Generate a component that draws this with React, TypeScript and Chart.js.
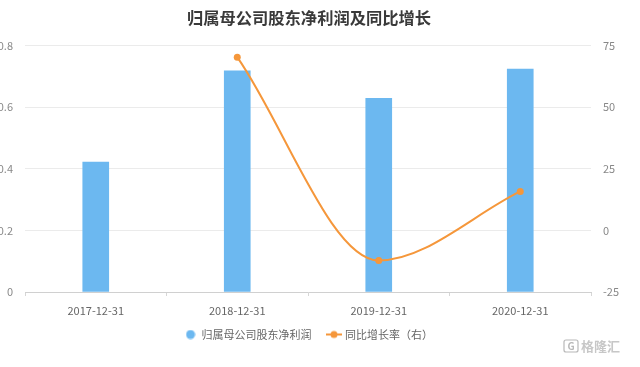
import React, { useEffect, useRef } from "react";
import { Chart, registerables } from "chart.js";

Chart.register(...registerables);

const title = "归属母公司股东净利润及同比增长";
const categories = ["2017-12-31", "2018-12-31", "2019-12-31", "2020-12-31"];
const profitLabel = "归属母公司股东净利润";
const profitValues = [0.422, 0.718, 0.629, 0.724];
const growthLabel = "同比增长率（右）";
const growthValues: (number | null)[] = [null, 70.3, -12.2, 15.8];

const FONT = "'Noto Sans CJK SC', 'Noto Sans', sans-serif";
const BAR_COLOR = "#6cb8f0";
const LINE_COLOR = "#f5973b";
const LEGEND_SHIFT = -6;

function makeLineMarker(): HTMLCanvasElement {
  const c = document.createElement("canvas");
  c.width = 18;
  c.height = 10;
  const ctx = c.getContext("2d")!;
  ctx.strokeStyle = LINE_COLOR;
  ctx.lineWidth = 2;
  ctx.beginPath();
  ctx.moveTo(1, 5);
  ctx.lineTo(17, 5);
  ctx.stroke();
  ctx.fillStyle = LINE_COLOR;
  ctx.beginPath();
  ctx.arc(9, 5, 3.5, 0, Math.PI * 2);
  ctx.fill();
  return c;
}

function makeDotMarker(): HTMLCanvasElement {
  const c = document.createElement("canvas");
  c.width = 10;
  c.height = 10;
  const ctx = c.getContext("2d")!;
  ctx.fillStyle = BAR_COLOR;
  ctx.beginPath();
  ctx.arc(5, 5, 4.5, 0, Math.PI * 2);
  ctx.fill();
  return c;
}

const legendShift = {
  id: "legendShift",
  afterLayout(chart: any) {
    const lg = chart.legend;
    if (lg) {
      lg.top += LEGEND_SHIFT;
      lg.bottom += LEGEND_SHIFT;
    }
  },
};

const watermark = {
  id: "watermark",
  afterDraw(chart: any) {
    const ctx = chart.ctx as CanvasRenderingContext2D;
    ctx.save();
    const x0 = 22 + 564;
    const y0 = 340;
    ctx.strokeStyle = "rgba(160,160,160,0.75)";
    ctx.lineWidth = 1.2;
    ctx.beginPath();
    (ctx as any).roundRect ? (ctx as any).roundRect(x0, y0, 14, 12, 2) : ctx.rect(x0, y0, 14, 12);
    ctx.stroke();
    ctx.fillStyle = "rgba(160,160,160,0.75)";
    ctx.font = `bold 10px ${FONT}`;
    ctx.textAlign = "center";
    ctx.textBaseline = "middle";
    ctx.fillText("G", x0 + 7, y0 + 6.5);
    ctx.font = `bold 13px ${FONT}`;
    ctx.textAlign = "left";
    ctx.fillStyle = "rgba(175,175,175,0.7)";
    ctx.fillText("格隆汇", x0 + 17, y0 + 6.5);
    ctx.restore();
  },
};

export default function App() {
  const ref = useRef<HTMLCanvasElement | null>(null);

  useEffect(() => {
    if (!ref.current) return;
    Chart.defaults.font.family = FONT;
    const lineMarker = makeLineMarker();
    const dotMarker = makeDotMarker();
    const markers = [dotMarker, lineMarker];
    const chart = new Chart(ref.current, {
      type: "bar",
      data: {
        labels: categories,
        datasets: [
          {
            type: "bar",
            label: profitLabel,
            data: profitValues,
            backgroundColor: BAR_COLOR,
            barThickness: 26,
            yAxisID: "y",
            order: 2,
          },
          {
            type: "line",
            label: growthLabel,
            data: growthValues,
            borderColor: LINE_COLOR,
            backgroundColor: LINE_COLOR,
            borderWidth: 2,
            pointRadius: 3.5,
            pointBackgroundColor: LINE_COLOR,
            pointBorderWidth: 0,
            cubicInterpolationMode: "monotone",
            yAxisID: "y1",
            order: 1,
          } as any,
        ],
      },
      options: {
        responsive: false,
        animation: false,
        layout: { padding: { top: 0, bottom: 11, left: 0, right: 0 } },
        plugins: {
          title: {
            display: true,
            text: title,
            color: "#3a3a3a",
            font: { size: 16.3, weight: "bold", family: FONT },
            padding: { top: 8.2, bottom: 17.8 },
          },
          legend: {
            position: "bottom",
            labels: {
              usePointStyle: true,
              color: "#666",
              font: { size: 11, family: FONT },
              padding: 17,
              sort: (a: any, b: any) => a.datasetIndex - b.datasetIndex,
              generateLabels: (ch: any) => {
                const items = Chart.defaults.plugins.legend.labels.generateLabels(ch);
                items.forEach((it: any) => {
                  it.pointStyle = markers[it.datasetIndex];
                });
                return items;
              },
            },
          },
          tooltip: { enabled: false },
        },
        scales: {
          x: {
            offset: true,
            grid: {
              display: true,
              drawOnChartArea: false,
              drawTicks: true,
              tickLength: 4,
              color: "#d6d6d6",
              offset: true,
            },
            border: { display: true, color: "#d0d0d0" },
            ticks: { color: "#666", font: { size: 11, family: FONT }, padding: 8 },
            afterFit: (s: any) => {
              s.height = 26;
            },
          },
          y: {
            position: "left",
            min: 0,
            max: 0.8,
            ticks: {
              stepSize: 0.2,
              color: "#888",
              font: { size: 11, family: FONT },
              padding: 12,
            },
            grid: { color: "#ebebeb", drawTicks: false },
            border: { display: false },
            afterFit: (s: any) => {
              s.width = 47;
            },
          },
          y1: {
            position: "right",
            min: -25,
            max: 75,
            ticks: {
              stepSize: 25,
              color: "#888",
              font: { size: 11, family: FONT },
              padding: 12,
            },
            grid: { drawOnChartArea: false, drawTicks: false },
            border: { display: false },
            afterFit: (s: any) => {
              s.width = 49;
            },
          },
        },
      },
      plugins: [legendShift, watermark],
    });
    return () => chart.destroy();
  }, []);

  return (
    <div style={{ position: "absolute", left: -22, top: 0, width: 662, height: 367 }}>
      <canvas ref={ref} width={662} height={367} style={{ width: 662, height: 367 }} />
    </div>
  );
}
